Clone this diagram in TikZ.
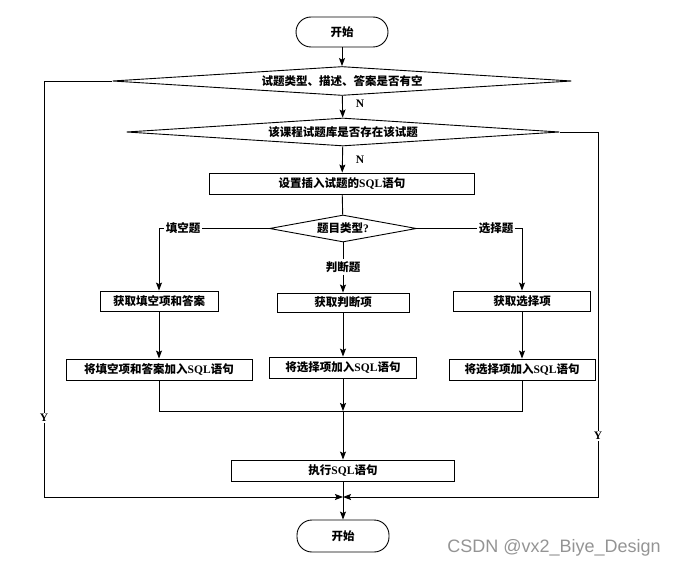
\documentclass[tikz,border=0pt]{standalone}
\usepackage{fontspec}
\setmainfont{Liberation Serif}
\newfontfamily\cjk{Noto Sans CJK SC}
\newfontfamily\wmfont{Liberation Sans}
\usetikzlibrary{shapes.geometric,arrows.meta}
\newcommand\zh[1]{{\cjk\bfseries #1}}
\tikzset{
  base/.style={font=\fontsize{11.5}{13}\selectfont\bfseries, inner sep=0pt, line width=0.9pt},
  term/.style={base, draw, rectangle, rounded corners=15pt, minimum width=92pt, minimum height=30pt},
  proc/.style={base, draw, rectangle},
  dec/.style={base, draw, diamond, aspect=#1},
  arr/.style={line width=0.9pt, -{Stealth[length=8pt,width=6pt,inset=1.5pt]}},
  ln/.style={line width=0.9pt},
  lab/.style={base, fill=white, inner sep=1.5pt},
}
\begin{document}
\begin{tikzpicture}[x=1pt,y=-1pt]
\useasboundingbox (0,0) rectangle (677,567);
% nodes
\node[term] (start) at (342,32) {\zh{开始}};
\node[dec=15, minimum width=459pt, minimum height=29pt] (d1) at (342,81) {\zh{试题类型、描述、答案是否有空}};
\node[dec=15, minimum width=433pt, minimum height=28pt] (d2) at (343,132) {\zh{该课程试题库是否存在该试题}};
\node[proc, minimum width=265pt, minimum height=21pt] (b1) at (342,183.5) {\zh{设置插入试题的}SQL\zh{语句}};
\node[dec=5.5, minimum width=147pt, minimum height=27pt] (d3) at (343,228.5) {\zh{题目类型}?};
\node[proc, minimum width=118pt, minimum height=20pt] (l1) at (159,301) {\zh{获取填空项和答案}};
\node[proc, minimum width=132pt, minimum height=19pt] (m1) at (343,302.5) {\zh{获取判断项}};
\node[proc, minimum width=137pt, minimum height=20pt] (r1) at (522,301) {\zh{获取选择项}};
\node[proc, minimum width=186pt, minimum height=21pt] (l2) at (159,369.5) {\zh{将填空项和答案加入}SQL\zh{语句}};
\node[proc, minimum width=147pt, minimum height=21pt] (m2) at (343,367.5) {\zh{将选择项加入}SQL\zh{语句}};
\node[proc, minimum width=146pt, minimum height=21pt] (r2) at (522,369.5) {\zh{将选择项加入}SQL\zh{语句}};
\node[proc, minimum width=223pt, minimum height=21pt] (ex) at (343,470.5) {\zh{执行}SQL\zh{语句}};
\node[term, minimum height=32pt] (end) at (343,536) {\zh{开始}};
\coordinate (yl) at (44,497);
\coordinate (yr) at (598,497);
\coordinate (m) at (343,497);
\coordinate (j) at (343,411);
% connectors
\draw[arr] (start) -- (d1);
\draw[arr] (d1) -- (d2);
\draw[arr] (d2) -- (b1);
\draw[ln] (b1) -- (d3);
\draw[arr] (d3.west) -| (l1.north);
\draw[arr] (d3.east) -| (r1.north);
\node[lab] (pd) at (343,267) {\zh{判断题}};
\draw[ln] (d3.south) -- (pd.north);
\draw[arr] (pd.south) -- (m1.north);
\draw[arr] (l1) -- (l2);
\draw[arr] (m1) -- (m2);
\draw[arr] (r1) -- (r2);
\draw[ln] (l2.south) |- (j);
\draw[ln] (r2.south) |- (j);
\draw[arr] (m2.south) -- (j);
\draw[arr] (j) -- (ex.north);
\draw[arr] (ex.south) -- (end.north);
\draw[arr] (d1.west) -| (yl) -- (m);
\draw[arr] (d2.east) -| (yr) -- (m);
% labels
\node[lab] (lf) at (183,228) {\zh{填空题}};
\node[lab] (lr) at (496,228) {\zh{选择题}};
\node[base] (n1) at (360,104) {N};
\node[base] (n2) at (360,160) {N};
\node[lab] (y1) at (44,418) {Y};
\node[lab] (y2) at (598,436) {Y};
\node[font=\wmfont\fontsize{18}{20}\selectfont, text=black!42, inner sep=0pt] (wm) at (554,548) {CSDN @vx2\_Biye\_Design};
\end{tikzpicture}
\end{document}
